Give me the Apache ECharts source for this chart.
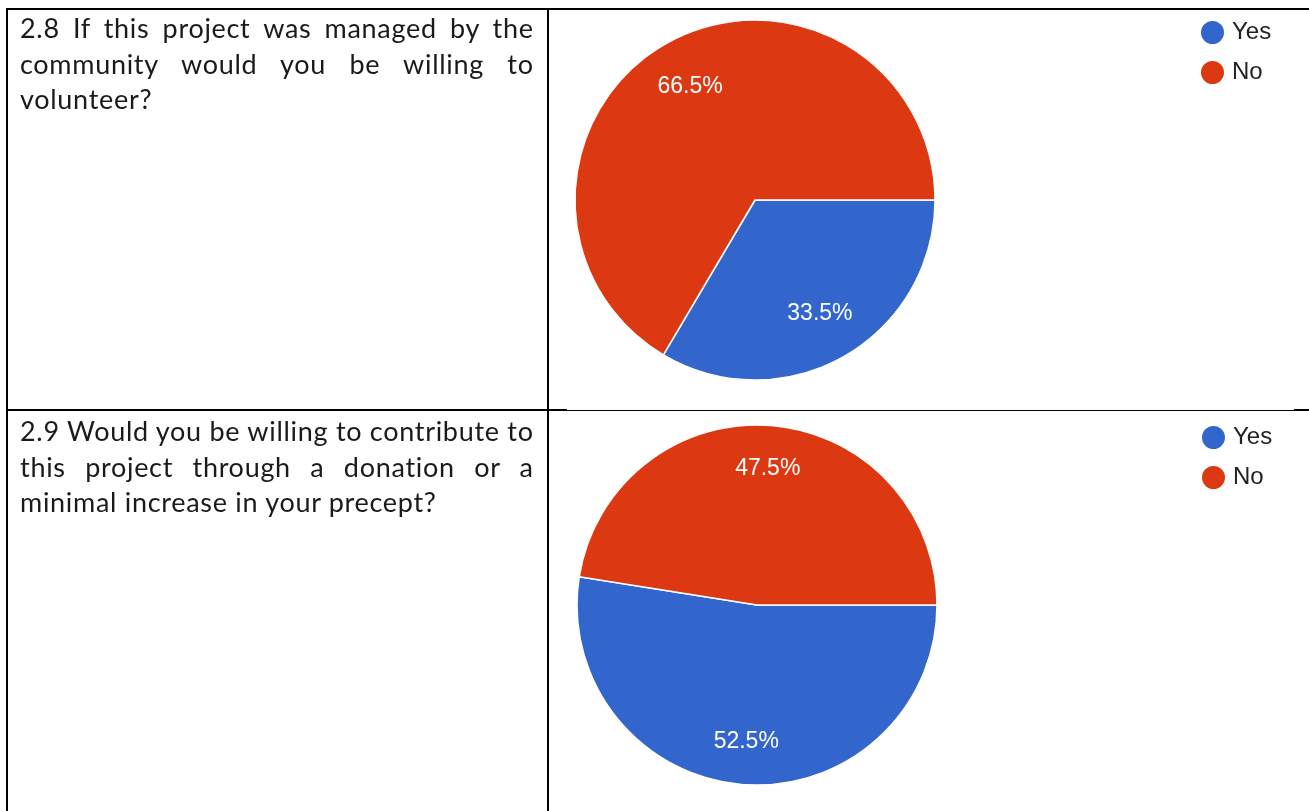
<!DOCTYPE html>
<html>
<head>
<meta charset="utf-8">
<script src="https://cdn.jsdelivr.net/npm/echarts@6/dist/echarts.min.js"></script>
<style>
  html, body { margin: 0; padding: 0; background: #fff; }
  #wrap { position: relative; width: 1309px; height: 811px; overflow: hidden; }
  #chart { position: absolute; left: 0; top: 0; width: 1309px; height: 811px; }
  .ln { position: absolute; background: #000; }
  .q { position: absolute; left: 20px; width: 513px; font-family: 'Lato', 'Open Sans', sans-serif; font-size: 27px; letter-spacing: 0.7px; color: #1a1a1a; line-height: 35.5px; }
  .q div { white-space: nowrap; }
  .q .j { text-align: justify; text-align-last: justify; white-space: normal; margin-right: -0.7px; }
</style>
</head>
<body>
<div id="wrap">
  <div id="chart"></div>
  <div class="ln" style="left:6px; top:8px; width:1303px; height:2px;"></div>
  <div class="ln" style="left:6px; top:8px; width:2px; height:803px;"></div>
  <div class="ln" style="left:547px; top:8px; width:2px; height:803px;"></div>
  <div class="ln" style="left:6px; top:409px; width:561px; height:2px;"></div>
  <div class="ln" style="left:567px; top:410px; width:727px; height:1px;"></div>
  <div class="ln" style="left:1294px; top:409px; width:15px; height:2px;"></div>
  <div class="q" id="q1" style="top:10px;"></div>
  <div class="q" id="q2" style="top:413px;"></div>
</div>
<script>
// ---- data ----
const categories = ['Yes', 'No'];
const q28Values = [33.5, 66.5];
const q29Values = [52.5, 47.5];
const q28Lines = ['2.8 If this project was managed by the', 'community would you be willing to', 'volunteer?'];
const q29Lines = ['2.9 Would you be willing to contribute to', 'this project through a donation or a', 'minimal increase in your precept?'];

const colors = ['#3366cc', '#dc3912'];

function fillQ(id, lines) {
  const el = document.getElementById(id);
  lines.forEach((t, i) => {
    const d = document.createElement('div');
    d.textContent = t;
    if (i < lines.length - 1) d.className = 'j';
    el.appendChild(d);
  });
}
fillQ('q1', q28Lines);
fillQ('q2', q29Lines);

function toData(vals) {
  return categories.map((c, i) => ({ name: c, value: vals[i], itemStyle: { color: colors[i] } }));
}

function pieSeries(vals, center, labelInner) {
  return [
    {
      type: 'pie',
      center: center,
      radius: 180,
      startAngle: 0,
      clockwise: true,
      avoidLabelOverlap: false,
      label: { show: false },
      labelLine: { show: false },
      itemStyle: { borderColor: '#ffffff', borderWidth: 1.5 },
      emphasis: { disabled: true },
      data: toData(vals)
    },
    {
      type: 'pie',
      center: center,
      radius: [labelInner, 180],
      startAngle: 0,
      clockwise: true,
      silent: true,
      avoidLabelOverlap: false,
      itemStyle: { color: 'rgba(0,0,0,0)', borderWidth: 0 },
      label: {
        show: true,
        position: 'inside',
        color: '#ffffff',
        fontFamily: 'Liberation Sans, Arial, sans-serif',
        fontSize: 23,
        formatter: p => p.value.toFixed(1) + '%'
      },
      labelLine: { show: false },
      emphasis: { disabled: true },
      data: categories.map((c, i) => ({ name: c, value: vals[i] }))
    }
  ];
}

const legendCommon = {
  orient: 'vertical',
  icon: 'circle',
  itemWidth: 25,
  itemHeight: 25,
  itemGap: 13,
  padding: 0,
  selectedMode: false,
  textStyle: { fontFamily: 'Liberation Sans, Arial, sans-serif', fontSize: 24, color: '#222222', padding: [0, 0, 0, 2] },
  data: categories
};

const chart = echarts.init(document.getElementById('chart'), null, { renderer: 'canvas' });
chart.setOption({
  animation: false,
  legend: [
    Object.assign({}, legendCommon, { left: 1199, top: 19 }),
    Object.assign({}, legendCommon, { left: 1200, top: 424 })
  ],
  series: [].concat(pieSeries(q28Values, [755, 200], 76), pieSeries(q29Values, [757, 605], 88))
});
</script>
</body>
</html>
